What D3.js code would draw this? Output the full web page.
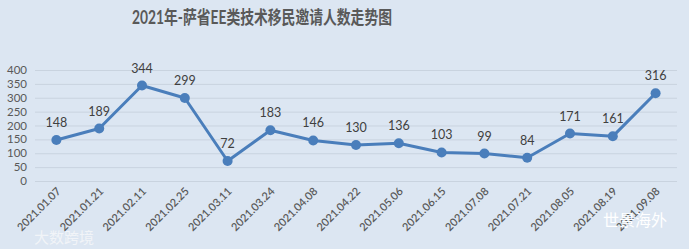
<!DOCTYPE html>
<html lang="zh">
<head>
<meta charset="utf-8">
<title>2021年-萨省EE类技术移民邀请人数走势图</title>
<script src="https://d3js.org/d3.v7.min.js"></script>
<style>
  body { margin: 0; background: #dce6f2; }
  svg { display: block; font-family: Lato, "Noto Sans CJK SC", sans-serif; }
  .grid line { stroke: #c9d3df; }
  .grid path { display: none; }
</style>
</head>
<body>
<svg width="689" height="249"></svg>
<script>
// chart data
const dates = ["2021.01.07", "2021.01.21", "2021.02.11", "2021.02.25", "2021.03.11",
               "2021.03.24", "2021.04.08", "2021.04.22", "2021.05.06", "2021.06.15",
               "2021.07.08", "2021.07.21", "2021.08.05", "2021.08.19", "2021.09.08"];
const invites = [148, 189, 344, 299, 72, 183, 146, 130, 136, 103, 99, 84, 171, 161, 316];
const yTicks = [0, 50, 100, 150, 200, 250, 300, 350, 400];

const svg = d3.select("svg");
const plotLeft = 35, plotRight = 677, plotTop = 70, plotBottom = 181;

svg.append("rect").attr("width", 689).attr("height", 249).attr("fill", "#dce6f2");

const x = d3.scaleBand().domain(dates).range([plotLeft, plotRight]);
const y = d3.scaleLinear().domain([0, 400]).range([plotBottom, plotTop]);

// grid lines
svg.append("g")
   .attr("class", "grid")
   .attr("transform", "translate(" + plotLeft + ",0)")
   .call(d3.axisRight(y).tickValues(yTicks).tickSize(plotRight - plotLeft).tickFormat(""));

// y labels
svg.append("g")
   .selectAll("text")
   .data(yTicks)
   .join("text")
   .attr("x", 27)
   .attr("y", d => y(d))
   .attr("dy", "0.35em")
   .attr("text-anchor", "end")
   .attr("font-size", 11.5)
   .attr("fill", "#595959")
   .text(d => d);

// x labels
svg.append("g")
   .selectAll("text")
   .data(dates)
   .join("text")
   .attr("transform", d => "translate(" + (x(d) + x.bandwidth() / 2 + 5) + "," + (plotBottom + 11) + ") rotate(-45)")
   .attr("text-anchor", "end")
   .attr("font-size", 11)
   .attr("font-weight", 600)
   .attr("fill", "#595959")
   .text(d => d);

// line
const line = d3.line()
   .x((d, i) => x(dates[i]) + x.bandwidth() / 2)
   .y(d => y(d));

svg.append("path")
   .datum(invites)
   .attr("d", line)
   .attr("fill", "none")
   .attr("stroke", "#4a7ebb")
   .attr("stroke-width", 3)
   .attr("stroke-linejoin", "round");

svg.append("g")
   .selectAll("circle")
   .data(invites)
   .join("circle")
   .attr("cx", (d, i) => x(dates[i]) + x.bandwidth() / 2)
   .attr("cy", d => y(d))
   .attr("r", 5)
   .attr("fill", "#4a7ebb");

// value labels
svg.append("g")
   .selectAll("text")
   .data(invites)
   .join("text")
   .attr("x", (d, i) => x(dates[i]) + x.bandwidth() / 2)
   .attr("y", d => y(d) - 13)
   .attr("text-anchor", "middle")
   .attr("font-size", 12.5)
   .attr("fill", "#404040")
   .text(d => d);

// title
svg.append("text")
   .attr("x", 262)
   .attr("y", 24)
   .attr("text-anchor", "middle")
   .attr("font-size", 18)
   .attr("font-weight", "bold")
   .attr("fill", "#595959")
   .attr("textLength", 260)
   .attr("lengthAdjust", "spacingAndGlyphs")
   .text("2021年-萨省EE类技术移民邀请人数走势图");

// watermarks
svg.append("text")
   .attr("x", 34)
   .attr("y", 243)
   .attr("font-size", 15)
   .attr("fill", "#f4f6f9")
   .attr("opacity", 0.9)
   .text("大数跨境");

svg.append("text")
   .attr("x", 603)
   .attr("y", 226)
   .attr("font-size", 16)
   .attr("fill", "#ffffff")
   .text("世景海外");
</script>
</body>
</html>
